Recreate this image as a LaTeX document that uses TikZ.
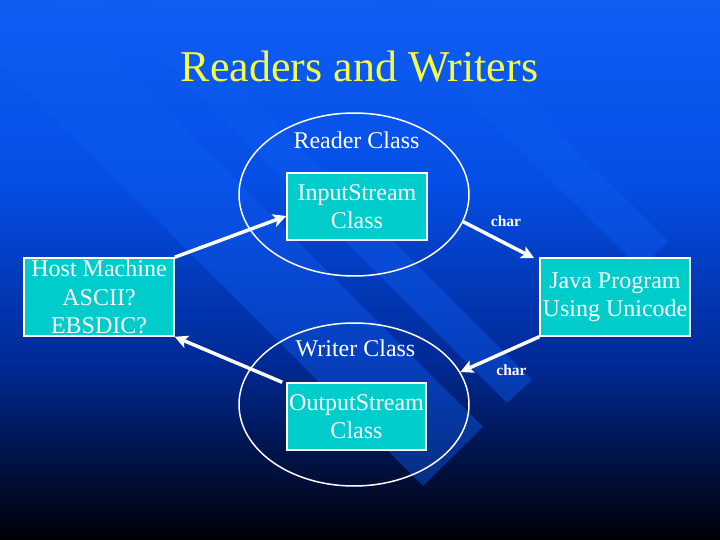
\documentclass[tikz,border=0pt]{standalone}
\usepackage{fontspec}
\setmainfont{Liberation Serif}
\usetikzlibrary{shapes.geometric,arrows.meta}
\definecolor{bgA}{RGB}{15,95,245}
\definecolor{bgB}{RGB}{5,78,230}
\definecolor{bgC}{RGB}{0,42,150}
\definecolor{bgD}{RGB}{0,0,5}
\definecolor{bandblue}{RGB}{15,92,242}
\definecolor{boxcyan}{RGB}{0,204,204}
\definecolor{titleyellow}{RGB}{245,250,70}
\tikzset{
  band/.style={fill=bandblue, fill opacity=0.42, draw=none},
  boxnode/.style={draw=white, line width=1.5pt, fill=boxcyan, inner sep=0pt,
    text=white, align=center, font=\fontsize{24}{28.5}\selectfont},
  ellnode/.style={ellipse, draw=white, line width=1.5pt, inner sep=0pt,
    minimum width=230pt, minimum height=163pt},
  lbl/.style={text=white, inner sep=0pt, anchor=base, font=\fontsize{24}{28.5}\selectfont},
  charlbl/.style={text=white, inner sep=0pt, anchor=base, font=\fontsize{15.5}{18}\selectfont\bfseries},
  arr/.style={draw=white, line width=3.5pt, -{Stealth[length=13pt,width=13pt,inset=3pt]}}
}
\begin{document}
\begin{tikzpicture}[x=1pt,y=-1pt]
\useasboundingbox (0,0) rectangle (720,540);
% background
\shade[top color=bgA, bottom color=bgB] (0,-1) rectangle (720,181);
\shade[top color=bgB, bottom color=bgC] (0,180) rectangle (720,361);
\shade[top color=bgC, bottom color=bgD] (0,360) rectangle (720,541);
% diagonal bands
\path[band] (-177,-114) -- (423,486) -- (483,427) -- (-117,-173) -- cycle;
\path[band] (-93,-197) -- (507,403) -- (532,380) -- (-68,-220) -- cycle;
\path[band] (40,-331) -- (640,269) -- (668,241) -- (68,-359) -- cycle;
% title
\node[anchor=base, inner sep=0pt, text=titleyellow, font=\fontsize{44}{50}\selectfont] (title) at (359.5,82)
  {Readers and Writers};
% ellipses
\node[ellnode] (reader) at (354,194.5) {};
\node[ellnode] (writer) at (354,404.5) {};
\node[lbl] (readerlbl) at (356.5,149) {Reader Class};
\node[lbl] (writerlbl) at (355.5,356) {Writer Class};
% boxes
\node[boxnode, minimum width=140pt, minimum height=67pt] (inp) at (357,206.5) {InputStream\\Class};
\node[boxnode, minimum width=139pt, minimum height=67pt] (out) at (356.5,416.5) {OutputStream\\Class};
\node[boxnode, minimum width=150pt, minimum height=78pt] (host) at (99,297) {Host Machine\\ASCII?\\EBSDIC?};
\node[boxnode, minimum width=150pt, minimum height=78pt] (java) at (615,297) {Java Program\\Using Unicode};
% arrows
\draw[arr] (host.north east) -- ([yshift=-9.5pt]inp.west);
\draw[arr] (reader.-14.5) -- ([xshift=-5pt,yshift=-1pt]java.north west);
\draw[arr] (java.south west) -- (writer.17.5);
\draw[arr] ([xshift=-4pt]out.north west) -- (host.south east);
% char labels
\node[charlbl] (char1) at (506,226) {char};
\node[charlbl] (char2) at (511.5,375) {char};
\end{tikzpicture}
\end{document}
